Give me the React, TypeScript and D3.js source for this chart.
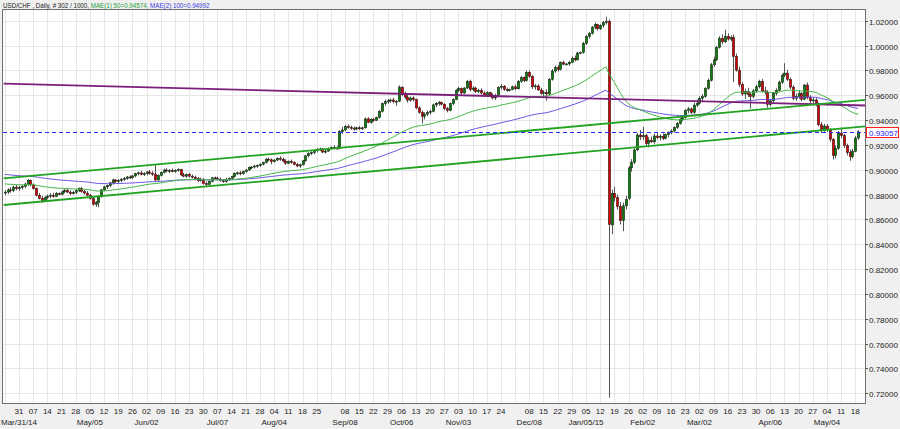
import React from "react";
import * as d3 from "d3";

// USD/CHF daily bars, Mar 24 2014 .. May 19 2015 (one bar per weekday)
const opens = [
.8812,.8820,.8838,.8832,.8860,.8848,.8858,.8866,.8885,.8915,
.8878,.8848,.8795,.8770,.8752,.8775,.8788,.8795,.8785,.8808,
.8802,.8822,.8835,.8820,.8808,.8818,.8832,.8850,.8825,.8812,
.8795,.8768,.8722,.8735,.8782,.8838,.8862,.8872,.8895,.8918,
.8905,.8915,.8922,.8930,.8942,.8935,.8950,.8968,.8975,.8962,
.8970,.8982,.8972,.8965,.8918,.8955,.8978,.8998,.8990,.8995,
.8985,.8995,.9002,.8958,.8948,.8962,.8948,.8940,.8928,.8912,
.8925,.8888,.8882,.8905,.8935,.8930,.8925,.8912,.8905,.8922,
.8930,.8945,.8972,.8975,.8968,.8985,.8998,.9018,.9022,.9030,
.9035,.9045,.9058,.9085,.9080,.9065,.9078,.9092,.9085,.9070,
.9052,.9068,.9058,.9042,.9030,.9040,.9072,.9112,.9132,.9138,
.9155,.9162,.9168,.9142,.9150,.9170,.9180,.9175,.9172,.9308,
.9320,.9348,.9340,.9335,.9328,.9338,.9330,.9338,.9410,.9382,
.9405,.9398,.9420,.9470,.9532,.9548,.9555,.9562,.9548,.9552,
.9665,.9605,.9585,.9560,.9578,.9565,.9498,.9462,.9430,.9448,
.9462,.9470,.9522,.9535,.9540,.9528,.9492,.9478,.9532,.9565,
.9638,.9655,.9618,.9658,.9712,.9645,.9658,.9628,.9640,.9618,
.9595,.9620,.9602,.9578,.9598,.9662,.9672,.9648,.9640,.9645,
.9668,.9652,.9712,.9742,.9718,.9785,.9752,.9668,.9675,.9642,
.9615,.9622,.9610,.9728,.9795,.9822,.9808,.9862,.9850,.9852,
.9865,.9898,.9885,.9940,.9945,1.0018,1.0072,1.0098,1.0148,1.0168,
1.0135,1.0162,1.0185,1.0195,.8555,.8810,.8775,.8705,.8590,.8710,
.8770,.9015,.9060,.9160,.9280,.9265,.9275,.9212,.9238,.9225,
.9272,.9258,.9270,.9252,.9282,.9298,.9312,.9340,.9372,.9405,
.9420,.9478,.9490,.9462,.9520,.9535,.9575,.9590,.9655,.9720,
.9845,.9885,.9985,1.0058,1.0030,1.0075,1.0052,1.0065,.9912,.9802,
.9688,.9610,.9628,.9605,.9590,.9635,.9668,.9712,.9635,.9625,
.9525,.9555,.9615,.9640,.9705,.9760,.9778,.9728,.9665,.9575,
.9588,.9612,.9568,.9682,.9580,.9555,.9562,.9528,.9362,.9318,
.9352,.9322,.9245,.9115,.9172,.9295,.9275,.9195,.9138,.9105,
.9148,.9255];

const highs = [
.8835,.8850,.8860,.8872,.8878,.8870,.8878,.8895,.8925,.8922,
.8890,.8858,.8812,.8790,.8785,.8800,.8812,.8815,.8820,.8818,
.8830,.8845,.8848,.8835,.8830,.8842,.8858,.8862,.8840,.8828,
.8805,.8780,.8748,.8792,.8845,.8870,.8880,.8902,.8928,.8925,
.8925,.8932,.8940,.8950,.8955,.8958,.8975,.8985,.8990,.8980,
.8990,.8998,.8988,.9045,.8962,.8985,.9008,.9012,.9005,.9010,
.9005,.9012,.9008,.8975,.8970,.8975,.8962,.8952,.8940,.8935,
.8930,.8905,.8915,.8942,.8945,.8945,.8938,.8925,.8935,.8938,
.8952,.8978,.8985,.8990,.8992,.9005,.9025,.9030,.9038,.9042,
.9050,.9065,.9095,.9098,.9092,.9085,.9100,.9108,.9098,.9085,
.9075,.9082,.9068,.9055,.9048,.9078,.9118,.9140,.9148,.9165,
.9175,.9178,.9172,.9160,.9178,.9188,.9198,.9190,.9318,.9345,
.9362,.9365,.9355,.9348,.9345,.9352,.9345,.9420,.9422,.9415,
.9418,.9428,.9478,.9540,.9565,.9570,.9572,.9578,.9560,.9680,
.9672,.9628,.9602,.9590,.9592,.9572,.9512,.9478,.9462,.9478,
.9482,.9532,.9545,.9555,.9550,.9535,.9505,.9540,.9575,.9648,
.9670,.9662,.9665,.9722,.9725,.9672,.9668,.9652,.9655,.9632,
.9632,.9628,.9615,.9612,.9672,.9690,.9682,.9662,.9652,.9678,
.9685,.9722,.9755,.9750,.9798,.9798,.9762,.9690,.9688,.9660,
.9640,.9648,.9738,.9810,.9838,.9842,.9872,.9878,.9860,.9875,
.9912,.9920,.9950,.9952,1.0030,1.0085,1.0110,1.0158,1.0185,1.0175,
1.0172,1.0198,1.0232,1.0210,.8840,.8862,.8800,.8740,.8735,.8790,
.9030,.9085,.9172,.9295,.9320,.9345,.9290,.9262,.9265,.9290,
.9295,.9285,.9292,.9290,.9310,.9325,.9350,.9385,.9418,.9438,
.9488,.9505,.9500,.9540,.9565,.9592,.9610,.9665,.9735,.9860,
.9910,.9995,1.0075,1.0090,1.0128,1.0098,1.0082,1.0088,.9935,.9830,
.9705,.9652,.9660,.9625,.9650,.9685,.9725,.9730,.9668,.9640,
.9570,.9628,.9655,.9718,.9775,.9858,.9805,.9742,.9680,.9615,
.9640,.9625,.9690,.9702,.9600,.9582,.9575,.9540,.9385,.9370,
.9368,.9335,.9255,.9195,.9312,.9340,.9288,.9210,.9162,.9168,
.9272,.9318];

const lows = [
.8795,.8805,.8815,.8820,.8835,.8830,.8840,.8852,.8870,.8868,
.8840,.8785,.8762,.8735,.8745,.8762,.8770,.8775,.8780,.8795,
.8795,.8810,.8812,.8795,.8800,.8805,.8820,.8815,.8800,.8785,
.8760,.8712,.8700,.8698,.8775,.8828,.8845,.8860,.8880,.8895,
.8890,.8900,.8910,.8918,.8925,.8928,.8940,.8955,.8955,.8950,
.8955,.8960,.8950,.8905,.8910,.8945,.8970,.8980,.8972,.8978,
.8975,.8985,.8950,.8940,.8935,.8938,.8930,.8915,.8900,.8905,
.8880,.8870,.8875,.8898,.8922,.8915,.8905,.8895,.8895,.8910,
.8922,.8938,.8958,.8955,.8960,.8978,.8990,.9005,.9010,.9015,
.9025,.9035,.9050,.9068,.9045,.9058,.9070,.9072,.9060,.9040,
.9045,.9050,.9035,.9020,.9015,.9035,.9065,.9100,.9118,.9125,
.9140,.9150,.9135,.9130,.9145,.9160,.9165,.9162,.9165,.9290,
.9310,.9330,.9322,.9315,.9318,.9318,.9320,.9330,.9375,.9370,
.9385,.9392,.9412,.9462,.9515,.9530,.9538,.9535,.9515,.9545,
.9595,.9570,.9540,.9548,.9550,.9488,.9450,.9372,.9405,.9432,
.9445,.9462,.9505,.9515,.9518,.9480,.9462,.9470,.9520,.9560,
.9625,.9605,.9612,.9650,.9632,.9632,.9618,.9615,.9605,.9585,
.9585,.9590,.9565,.9560,.9592,.9645,.9635,.9628,.9630,.9640,
.9640,.9645,.9700,.9705,.9710,.9740,.9650,.9645,.9635,.9605,
.9585,.9555,.9602,.9718,.9780,.9790,.9800,.9840,.9842,.9838,
.9858,.9872,.9878,.9930,.9935,1.0005,1.0055,1.0088,1.0130,1.0120,
1.0125,1.0145,1.0170,.7165,.8480,.8745,.8680,.8560,.8505,.8680,
.8755,.8985,.9045,.9150,.9240,.9240,.9195,.9180,.9215,.9210,
.9245,.9235,.9240,.9245,.9262,.9285,.9300,.9330,.9362,.9390,
.9412,.9455,.9448,.9450,.9505,.9525,.9555,.9580,.9645,.9710,
.9830,.9875,.9975,1.0012,1.0020,1.0040,1.0035,.9705,.9790,.9665,
.9595,.9570,.9585,.9492,.9575,.9622,.9655,.9620,.9605,.9500,
.9510,.9542,.9598,.9630,.9690,.9745,.9715,.9650,.9560,.9555,
.9570,.9552,.9560,.9568,.9535,.9535,.9510,.9350,.9295,.9305,
.9305,.9225,.9082,.9092,.9160,.9255,.9175,.9115,.9072,.9090,
.9140,.9240];

const closes = [
.8820,.8838,.8832,.8860,.8848,.8858,.8866,.8885,.8915,.8878,
.8848,.8795,.8770,.8752,.8775,.8788,.8795,.8785,.8808,.8802,
.8822,.8835,.8820,.8808,.8818,.8832,.8850,.8825,.8812,.8795,
.8768,.8722,.8735,.8782,.8838,.8862,.8872,.8895,.8918,.8905,
.8915,.8922,.8930,.8942,.8935,.8950,.8968,.8975,.8962,.8970,
.8982,.8972,.8965,.8918,.8955,.8978,.8998,.8990,.8995,.8985,
.8995,.9002,.8958,.8948,.8962,.8948,.8940,.8928,.8912,.8925,
.8888,.8882,.8905,.8935,.8930,.8925,.8912,.8905,.8922,.8930,
.8945,.8972,.8975,.8968,.8985,.8998,.9018,.9022,.9030,.9035,
.9045,.9058,.9085,.9080,.9065,.9078,.9092,.9085,.9070,.9052,
.9068,.9058,.9042,.9030,.9040,.9072,.9112,.9132,.9138,.9155,
.9162,.9168,.9142,.9150,.9170,.9180,.9175,.9172,.9308,.9320,
.9348,.9340,.9335,.9328,.9338,.9330,.9338,.9410,.9382,.9405,
.9398,.9420,.9470,.9532,.9548,.9555,.9562,.9548,.9552,.9665,
.9605,.9585,.9560,.9578,.9565,.9498,.9462,.9430,.9448,.9462,
.9470,.9522,.9535,.9540,.9528,.9492,.9478,.9532,.9565,.9638,
.9655,.9618,.9658,.9712,.9645,.9658,.9628,.9640,.9618,.9595,
.9620,.9602,.9578,.9598,.9662,.9672,.9648,.9640,.9645,.9668,
.9652,.9712,.9742,.9718,.9785,.9752,.9668,.9675,.9642,.9615,
.9622,.9610,.9728,.9795,.9822,.9808,.9862,.9850,.9852,.9865,
.9898,.9885,.9940,.9945,1.0018,1.0072,1.0098,1.0148,1.0168,1.0135,
1.0162,1.0185,1.0195,.8560,.8810,.8775,.8705,.8590,.8710,.8760,
.9015,.9060,.9160,.9280,.9265,.9275,.9212,.9238,.9225,.9272,
.9258,.9270,.9252,.9282,.9298,.9312,.9340,.9372,.9405,.9420,
.9478,.9490,.9462,.9520,.9535,.9575,.9590,.9655,.9720,.9845,
.9885,.9985,1.0058,1.0030,1.0075,1.0052,1.0065,.9912,.9802,.9688,
.9610,.9628,.9605,.9590,.9635,.9668,.9712,.9635,.9625,.9525,
.9555,.9615,.9640,.9705,.9760,.9778,.9728,.9665,.9575,.9588,
.9612,.9568,.9682,.9580,.9555,.9562,.9528,.9362,.9318,.9352,
.9322,.9245,.9115,.9172,.9295,.9275,.9195,.9138,.9105,.9148,
.9255,.93057];

// Monday labels per week (week 0 = Mar 24 2014); empty = not labelled
const weekDayLabels = ["", "31","07","14","21","28","05","12","19","26","02","09","16","23","30",
  "07","14","21","28","04","11","18","25","","08","15","22","29","06","13","20","27",
  "03","10","17","24","","08","15","22","29","05","12","19","26","02","09","16","23",
  "02","09","16","23","30","06","13","20","27","04","11","18"];
const monthWeeks = [1, 6, 10, 15, 19, 24, 28, 32, 37, 41, 45, 49, 54, 58];
const monthTexts = ["Mar/31/14","May/05","Jun/02","Jul/07","Aug/04","Sep/08","Oct/06","Nov/03","Dec/08","Jan/05/15","Feb/02","Mar/02","Apr/06","May/04"];

const yTickValues = [0.72,0.74,0.76,0.78,0.80,0.82,0.84,0.86,0.88,0.90,0.92,0.94,0.96,0.98,1.00,1.02];

// Trend lines: [barIndex, price] end points
const purpleLine = [[-0.4, 0.96928], [303.5, 0.95172]];
const upperGreen = [[-0.4, 0.8930], [303.5, 0.9562]];
const lowerGreen = [[-0.4, 0.87161], [303.5, 0.93498]];

const lastPrice = 0.93057;
const ma50Seed = 0.8886;
const ma100Seed = 0.8963;

const W = 900, H = 429;
const L = 3, R = 865, T = 10, B = 403;

function ema(vals: number[], period: number, seed: number) {
  const k = 2 / (period + 1);
  let e = seed;
  return vals.map((v, i) => {
    if (i > 0) e = e + k * (v - e);
    return e;
  });
}

export default function App() {
  const x = d3.scaleLinear().domain([5, 300]).range([19, 19 + 295 * 2.835]);
  const y = d3.scaleLinear().domain([0.72, 1.02]).range([393.3, 20.7]);
  const n = closes.length;
  const idx = d3.range(n);
  const ma50 = ema(closes, 50, ma50Seed);
  const ma100 = ema(closes, 100, ma100Seed);
  const maPath = (arr: number[]) =>
    d3.line<number>().x((i) => x(i)).y((i) => y(arr[i]))(idx) || "";
  const segPath = (pts: number[][]) =>
    d3.line<number[]>().x((p) => x(p[0])).y((p) => y(p[1]))(pts) || "";
  const font = "'Liberation Sans', Arial, sans-serif";
  const lastY = Math.round(y(lastPrice));

  return (
    <div style={{ position: "fixed", left: 0, top: 0 }}>
      <svg width={W} height={H} style={{ display: "block" }}>
        <defs>
          <clipPath id="plot">
            <rect x={L} y={T} width={R - L} height={B - T} />
          </clipPath>
        </defs>
        <rect x={0} y={0} width={W} height={H} fill="#f0f0f0" />
        <rect x={L} y={T} width={R - L} height={B - T} fill="#ffffff" />
        {/* grid */}
        <g stroke="#e6e6e6" strokeWidth={1}>
          {weekDayLabels.map((_, w) => {
            const xx = Math.round(x(w * 5)) + 0.5;
            return xx > L && xx < R ? <line key={"v" + w} x1={xx} x2={xx} y1={T} y2={B} /> : null;
          })}
          {yTickValues.map((v) => {
            const yy = Math.round(y(v)) + 0.5;
            return <line key={"h" + v} x1={L} x2={R} y1={yy} y2={yy} />;
          })}
        </g>
        <g clipPath="url(#plot)">
          {/* candles */}
          {idx.map((i) => {
            const cx = Math.round(x(i)) + 0.5;
            const up = closes[i] >= opens[i];
            const top = y(Math.max(opens[i], closes[i]));
            const bot = y(Math.min(opens[i], closes[i]));
            return (
              <g key={"c" + i}>
                <line x1={cx} x2={cx} y1={y(highs[i])} y2={y(lows[i])} stroke="#555" strokeWidth={1} />
                <rect x={cx - 1.2} y={top} width={2.4} height={Math.max(bot - top, 1)}
                  fill={up ? "#0a7a0a" : "#d00000"} stroke="#1a1a1a" strokeWidth={0.5} />
              </g>
            );
          })}
          {/* moving averages */}
          <path d={maPath(ma100)} fill="none" stroke="#6a55e0" strokeWidth={1} />
          <path d={maPath(ma50)} fill="none" stroke="#45b545" strokeWidth={1} />
          {/* trend lines */}
          <path d={segPath(purpleLine)} fill="none" stroke="#7b1f7b" strokeWidth={1.8} />
          <path d={segPath(upperGreen)} fill="none" stroke="#22a322" strokeWidth={1.8} />
          <path d={segPath(lowerGreen)} fill="none" stroke="#22a322" strokeWidth={1.8} />
          <line x1={L} x2={R} y1={lastY + 0.5} y2={lastY + 0.5}
            stroke="#2a2aff" strokeWidth={1} strokeDasharray="4,3" />
        </g>
        {/* frame */}
        <rect x={L - 0.5} y={T - 0.5} width={R - L + 1} height={B - T + 1} fill="none" stroke="#707070" strokeWidth={1} />
        {/* right axis */}
        <g fontFamily={font} fontSize={8} fill="#222">
          {yTickValues.map((v) => {
            const yy = Math.round(y(v)) + 0.5;
            return (
              <g key={"t" + v}>
                <line x1={R} x2={R + 3} y1={yy} y2={yy} stroke="#555" />
                <text x={R + 4} y={yy + 3}>{v.toFixed(5)}</text>
              </g>
            );
          })}
        </g>
        <rect x={R + 1.5} y={lastY - 4.5} width={32} height={10} fill="#fff" stroke="#ff2020" strokeWidth={1} />
        <text x={R + 4} y={lastY + 3.5} fontFamily={font} fontSize={8} fill="#1a1aff">{lastPrice.toFixed(5)}</text>
        {/* bottom axis */}
        <g fontFamily={font} fontSize={8} fill="#222" textAnchor="middle">
          {weekDayLabels.map((t, w) => (t ? <text key={"d" + w} x={x(w * 5)} y={414}>{t}</text> : null))}
          {monthWeeks.map((w, k) => (
            <text key={"m" + w} x={x(w * 5)} y={425}>{monthTexts[k]}</text>
          ))}
        </g>
        {/* header */}
        <text transform="translate(3,8) scale(0.78,1)" fontFamily={font} fontSize={8} fill="#222">
          <tspan>USD/CHF , Daily, # 302 / 1000, </tspan>
          <tspan fill="#1fa03a">MAE(1) 50=0.94574, </tspan>
          <tspan fill="#3a3ae0">MAE(2) 100=0.94992</tspan>
        </text>
      </svg>
    </div>
  );
}
